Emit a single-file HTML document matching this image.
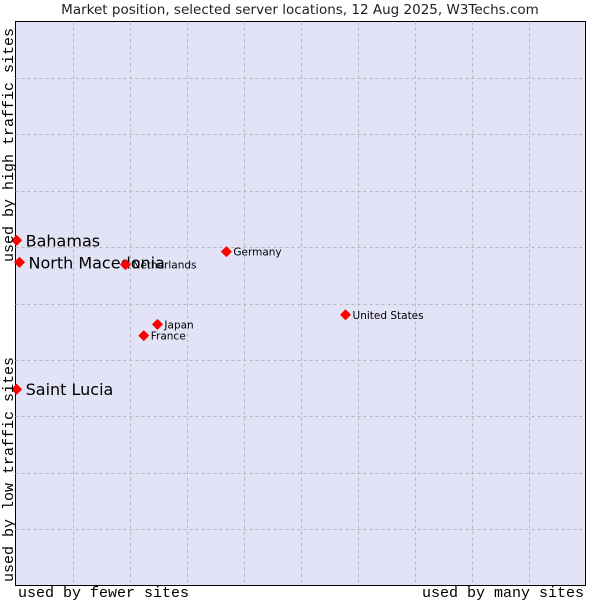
<!DOCTYPE html>
<html><head><meta charset="utf-8"><style>
body{margin:0;background:#fff;width:600px;height:600px;overflow:hidden}
svg{display:block}
</style></head><body>
<svg id="chart" width="600" height="600" xmlns="http://www.w3.org/2000/svg">
<text x="300" y="14" text-anchor="middle" font-family="DejaVu Sans, sans-serif" font-size="13.5" fill="#222">Market position, selected server locations, 12 Aug 2025, W3Techs.com</text>
<rect x="15.5" y="21.5" width="570" height="564" fill="#e3e3f7" stroke="#000" stroke-width="1"/>
<g id="grid"></g>
<g id="marks"></g>
<text x="18" y="597" font-family="Liberation Mono, monospace" font-size="15" fill="#000">used by fewer sites</text>
<text x="584" y="597" text-anchor="end" font-family="Liberation Mono, monospace" font-size="15" fill="#000">used by many sites</text>
<text transform="translate(13,582) rotate(-90)" font-family="Liberation Mono, monospace" font-size="15" fill="#000">used by low traffic sites</text>
<text transform="translate(13,262) rotate(-90)" font-family="Liberation Mono, monospace" font-size="15" fill="#000">used by high traffic sites</text>
</svg>
<script>
const names = ["Bahamas","North Macedonia","Netherlands","Germany","United States","Japan","France","Saint Lucia"];
const xValues = [0.2,0.7,19.3,37.0,57.9,24.9,22.5,0.2];
const yValues = [61.2,57.3,56.9,59.2,48.0,46.3,44.3,34.8];
const highlighted = [true,true,false,false,false,false,false,true];
const NS="http://www.w3.org/2000/svg";
const L=15.5,R=585.5,T=21.5,B=585.5;
function xs(v){return L+(R-L)*v/100;}
function ys(v){return B-(B-T)*v/100;}
const grid=document.getElementById('grid');
for(let i=1;i<10;i++){
  const vx=document.createElementNS(NS,'line');
  const gx=Math.round(xs(i*10))+0.5;
  vx.setAttribute('x1',gx);vx.setAttribute('x2',gx);vx.setAttribute('y1',T);vx.setAttribute('y2',B);
  vx.setAttribute('stroke','#b8b8b8');vx.setAttribute('stroke-dasharray','3,3');
  
  
  grid.appendChild(vx);
  const hy=document.createElementNS(NS,'line');
  const gy=Math.round(ys(i*10))+0.5;
  hy.setAttribute('x1',L);hy.setAttribute('x2',R);hy.setAttribute('y1',gy);hy.setAttribute('y2',gy);
  hy.setAttribute('stroke','#b8b8b8');hy.setAttribute('stroke-dasharray','3,3');
  
  
  grid.appendChild(hy);
}
const marks=document.getElementById('marks');
names.forEach((n,i)=>{
  const cx=xs(xValues[i]),cy=ys(yValues[i]);
  const p=document.createElementNS(NS,'path');
  p.setAttribute('d',`M${cx},${cy-4.5}L${cx+4.5},${cy}L${cx},${cy+4.5}L${cx-4.5},${cy}Z`);
  p.setAttribute('fill','#ff0000');
  p.setAttribute('stroke','#ff0000');p.setAttribute('stroke-linejoin','round');p.setAttribute('stroke-width','1.5');
  
  
  marks.appendChild(p);
  const t=document.createElementNS(NS,'text');
  const big=highlighted[i];
  t.setAttribute('x',cx+(big?9:7));t.setAttribute('y',cy+(big?6:4));
  t.setAttribute('font-family','DejaVu Sans, sans-serif');
  t.setAttribute('font-size',big?'16':'10.5');
  t.setAttribute('fill','#000');
  t.textContent=n;
  
  
  marks.appendChild(t);
});
</script>
</body></html>
